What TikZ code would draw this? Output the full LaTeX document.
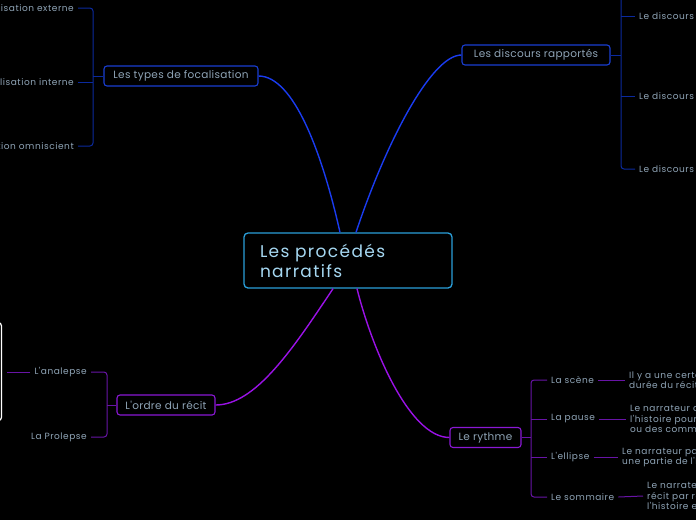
\documentclass[tikz,border=0pt]{standalone}
\usepackage{fontspec}
\setmainfont{Poppins}
\newfontfamily\mainf{Poppins}[LetterSpace=8]
\newfontfamily\topicf{Poppins}[LetterSpace=3]
\newfontfamily\leaff{Poppins}[LetterSpace=6]
\definecolor{cmainb}{HTML}{2A9FDA}
\definecolor{cmaint}{HTML}{A6D8F2}
\definecolor{cgray}{HTML}{8FA4B6}
\definecolor{cblue}{HTML}{1A3CF0}
\definecolor{cbluebox}{HTML}{1A3ED2}
\definecolor{cdblue}{HTML}{0B2A9E}
\definecolor{cpurp}{HTML}{9A12E6}
\definecolor{cpurpbox}{HTML}{8A18D4}
\definecolor{cdpurp}{HTML}{6814A6}
\tikzset{
  mainbox/.style={draw=cmainb, line width=1.3pt, rounded corners=4pt, fill=black, text=cmaint,
    font=\mainf\fontsize{17}{20}\selectfont, align=left, text width=176pt, inner xsep=16pt,
    minimum height=55pt},
  topic/.style={line width=1.1pt, rounded corners=3pt, text=cgray,
    font=\topicf\fontsize{10.5}{12}\selectfont, minimum height=20pt, inner xsep=4pt, inner ysep=2pt},
  leaf/.style={text=cgray, font=\leaff\fontsize{9}{10.5}\selectfont, inner xsep=4pt, inner ysep=1pt, align=left},
  conB/.style={draw=cblue, line width=1.4pt},
  conP/.style={draw=cpurp, line width=1.4pt},
  brB/.style={draw=cdblue, line width=1pt, rounded corners=3pt},
  brP/.style={draw=cdpurp, line width=1pt, rounded corners=3pt},
}
\begin{document}
\begin{tikzpicture}[x=1pt,y=-1pt]
\useasboundingbox[fill=black] (0,0) rectangle (696,520);

% central
\node[mainbox, minimum width=208pt] (main) at (348,260.5) {Les procédés\\narratifs};

% topics
\node[topic, draw=cbluebox, minimum width=154pt] (foc) at (181,76) {Les types de focalisation};
\node[topic, draw=cbluebox, minimum width=148pt] (dis) at (536,55) {Les discours rapportés};
\node[topic, draw=cpurpbox, minimum width=98pt] (ord) at (166,405) {L'ordre du récit};
\node[topic, draw=cpurpbox, minimum width=71pt] (ryt) at (485.5,437.5) {Le rythme};

% main connectors
\draw[conB] ([xshift=-8pt]main.north) .. controls +(-18,-80) and +(35,0) .. (foc.east);
\draw[conB] ([xshift=8pt]main.north) .. controls +(30,-90) and +(-30,0) .. (dis.west);
\draw[conP] ([xshift=-15pt]main.south) .. controls +(-40,60) and +(40,0) .. (ord.east);
\draw[conP] ([xshift=9pt]main.south) .. controls +(15,60) and +(-40,0) .. (ryt.west);

% focalisation leaves
\node[leaf, anchor=east] (fe) at (78,8) {Focalisation externe};
\node[leaf, anchor=east] (fi) at (78,82) {Focalisation interne};
\node[leaf, anchor=east] (fo) at (78,146) {Focalisation omniscient};
\coordinate (fj) at (93,76);
\draw[brB] (foc.west) -- (fj);
\draw[brB] (fe.east) -| (fj) |- (fo.east);
\draw[brB] (fi.east) -- (fi.east -| fj);

% discours leaves
\node[leaf, anchor=west] (dd) at (635,16) {Le discours direct};
\node[leaf, anchor=west] (di) at (635,96) {Le discours indirect};
\node[leaf, anchor=west] (dl) at (635,169) {Le discours indirect libre};
\coordinate (dj) at (621,55);
\coordinate (dtop) at (621,-6);
\draw[brB] (dis.east) -- (dj);
\draw[brB] (dtop) |- (dl.west);
\draw[brB] (dd.west) -- (dd.west -| dj);
\draw[brB] (di.west) -- (di.west -| dj);

% ordre leaves
\node[leaf, anchor=east] (ana) at (91,372) {L'analepse};
\node[leaf, anchor=east] (pro) at (91,437) {La Prolepse};
\coordinate (oj) at (107,405);
\draw[brP] (ord.west) -- (oj);
\draw[brP] (ana.east) -| (oj) |- (pro.east);
\node[draw=white, line width=1.2pt, rounded corners=3pt, minimum width=60pt, minimum height=98pt,
  anchor=north east, inner sep=0pt] (img) at (2,322) {};
\coordinate (imgp) at ([xshift=5pt]img.east);
\draw[brP] (ana.west) -- (imgp |- ana.west);

% rythme leaves
\node[leaf, anchor=west] (rs) at (547,380) {La scène};
\node[leaf, anchor=west] (rp) at (547,419) {La pause};
\node[leaf, anchor=west] (re) at (547,457) {L'ellipse};
\node[leaf, anchor=west] (rso) at (547,497) {Le sommaire};
\coordinate (rj) at (531,437.5);
\draw[brP] (ryt.east) -- (rj);
\draw[brP] (rs.west) -| (rj) |- (rso.west);
\draw[brP] (rp.west) -- (rp.west -| rj);
\draw[brP] (re.west) -- (re.west -| rj);

% descriptions
\node[leaf, anchor=west] (ds) at (625,380) {Il y a une certaine égalité entre la durée de l'histoire et la\\durée du récit.};
\node[leaf, anchor=west] (dp) at (626,419) {Le narrateur donne une pause dans\\l'histoire pour faire des descriptions\\ou des commentaires.};
\node[leaf, anchor=west] (de) at (618,457) {Le narrateur passe sous silence\\une partie de l'histoire.};
\node[leaf, anchor=west] (dso) at (643,496) {Le narrateur accélère le\\récit par rapport à\\l'histoire en la résumant.};
\draw[brP] (rs.east) -- (ds.west);
\draw[brP] (rp.east) -- (dp.west);
\draw[brP] (re.east) -- (de.west);
\draw[brP] (rso.east) -- (dso.west);
\end{tikzpicture}
\end{document}
